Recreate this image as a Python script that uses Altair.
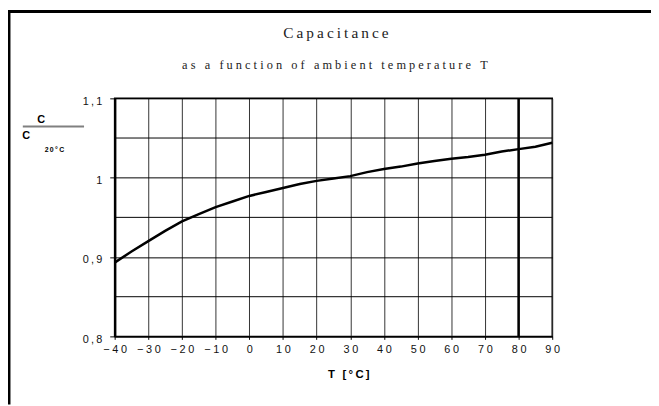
import altair as alt
import pandas as pd

# Data
temps = [-40, -35, -30, -25, -20, -15, -10, -5, 0, 5, 10, 15, 20, 25, 30, 35, 40, 45, 50, 55, 60, 65, 70, 75, 80, 85, 90]
ratio = [0.893, 0.907, 0.920, 0.933, 0.945, 0.954, 0.963, 0.970, 0.977, 0.982, 0.987, 0.992, 0.996, 0.999, 1.002,
         1.007, 1.011, 1.014, 1.018, 1.021, 1.024, 1.026, 1.029, 1.033, 1.036, 1.039, 1.044]
x_ticks = [-40, -30, -20, -10, 0, 10, 20, 30, 40, 50, 60, 70, 80, 90]
y_ticks = [0.8, 0.9, 1.0, 1.1]
y_minor = [0.85, 0.95, 1.05]
x_marker = [80]

title_text = "Capacitance"
subtitle_text = "as a function of ambient temperature T"
x_title_text = "T [°C]"
y_num = "C"
y_den = "C"
y_sub = "20°C"

TS = "\u2009"   # thin space
FS = "\u2005"   # four-per-em space


def spaced(s, gap=TS):
    words = s.split(" ")
    return (gap + "\u00a0" + gap).join(gap.join(w) for w in words)


W, H = 443, 241
PL, PT = 108, 89
PR = 651 - PL - W
PB = 398 - PT - H

xs = alt.Scale(domain=[-40, 90], nice=False, zero=False)
ys = alt.Scale(domain=[0.8, 1.1], nice=False, zero=False)

curve_df = pd.DataFrame({"T": temps, "C": ratio})

label_expr = "join(split(replace(datum.label, '.', ','), ''), '" + TS + "')"

x_axis = alt.Axis(
    values=x_ticks, grid=True, gridColor="#333333", gridWidth=1,
    domainColor="black", domainWidth=1.5, tickColor="black", tickSize=3,
    labelFont="Liberation Sans", labelFontSize=11, labelColor="#111111", labelPadding=4,
    labelOverlap=False, labelFlush=False,
    labelExpr="join(split(datum.label, ''), '" + FS + "')", title=None)
y_axis = alt.Axis(
    values=y_ticks, grid=True, gridColor="black", gridWidth=1,
    domainColor="black", domainWidth=2.5, tickColor="black", tickSize=5,
    format=".1~f", labelExpr=label_expr, labelOverlap=False, labelFlush=False, labelOffset=3,
    labelFont="Liberation Sans", labelFontSize=11, labelColor="#111111", labelPadding=8, title=None)

curve = alt.Chart(curve_df).mark_line(color="black", strokeWidth=2.5).encode(
    x=alt.X("T:Q", scale=xs, axis=x_axis), y=alt.Y("C:Q", scale=ys, axis=y_axis))

minor = alt.Chart(pd.DataFrame({"C": y_minor})).mark_rule(color="black", strokeWidth=1).encode(
    y=alt.Y("C:Q", scale=ys, axis=y_axis))
marker = alt.Chart(pd.DataFrame({"T": x_marker})).mark_rule(color="black", strokeWidth=2.5).encode(
    x=alt.X("T:Q", scale=xs, axis=x_axis))


def txt(s, x, y, size, font="Liberation Sans", weight="normal", color="black"):
    return alt.Chart(pd.DataFrame({"t": [s]})).mark_text(
        font=font, fontSize=size, fontWeight=weight, color=color, align="center", baseline="alphabetic"
    ).encode(x=alt.value(x), y=alt.value(y), text="t:N")


title = txt(spaced(title_text), 224, -61, 15.5, font="Liberation Serif", color="#222222")
subtitle = txt(spaced(subtitle_text, FS), 223, -30, 12.5, font="Liberation Serif", color="#222222")
xtitle = txt(spaced(x_title_text), 237, 283, 11.5, weight="bold")
num = txt(y_num, -74.5, 25, 11, weight="bold")
den = txt(y_den, -89.5, 41, 11, weight="bold")
sub = txt(spaced(y_sub), -61, 54, 7, weight="bold")

frac_line = alt.Chart(pd.DataFrame({"a": [0]})).mark_rule(color="#808080", strokeWidth=2).encode(
    x=alt.value(-93), x2=alt.value(-31), y=alt.value(28.5))
border_left = alt.Chart(pd.DataFrame({"a": [0]})).mark_rule(color="black", strokeWidth=3).encode(
    x=alt.value(-107), y=alt.value(-89), y2=alt.value(310))
border_top = alt.Chart(pd.DataFrame({"a": [0]})).mark_rule(color="black", strokeWidth=3).encode(
    x=alt.value(-108), x2=alt.value(543), y=alt.value(-88))

chart = alt.layer(
    curve, minor, marker, title, subtitle, xtitle, num, den, sub, frac_line, border_left, border_top
).properties(
    width=W, height=H,
    autosize=alt.AutoSizeParams(type="none"),
    padding={"left": PL, "top": PT, "right": PR, "bottom": PB},
    background="white",
).configure_view(stroke="black", strokeWidth=1.5)

chart.save("out.html", embed_options={"renderer": "svg", "actions": False})
